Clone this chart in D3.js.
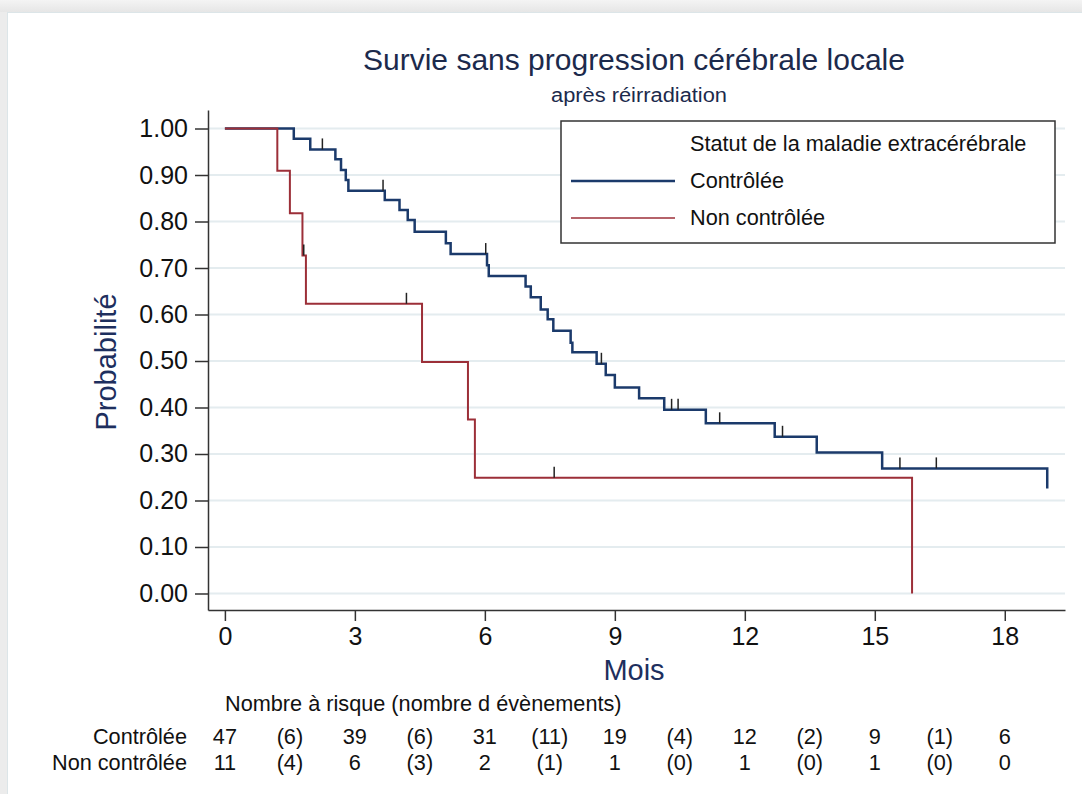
<!DOCTYPE html>
<html>
<head>
<meta charset="utf-8">
<script src="https://cdn.jsdelivr.net/npm/d3@7"></script>
<style>
  html, body { margin: 0; padding: 0; background: #ececec; }
  svg { display: block; font-family: "Liberation Sans", Arial, Helvetica, sans-serif; }
</style>
</head>
<body>
<svg id="chart" width="1082" height="794"></svg>
<script>
// Kaplan-Meier estimates (months, survival probability)
const controlledTimes = [0, 1.59, 1.97, 2.55, 2.68, 2.79, 2.85, 3.69, 4.03, 4.22, 4.38, 5.10, 5.21,
  6.05, 6.09, 6.94, 7.06, 7.29, 7.45, 7.58, 7.98, 8.02, 8.58, 8.79, 9.00, 9.56, 10.14,
  11.10, 12.69, 13.66, 15.17, 18.98];
const controlledSurv = [1.000, 0.978, 0.955, 0.934, 0.911, 0.889, 0.866, 0.846, 0.825, 0.803, 0.778, 0.753, 0.730,
  0.706, 0.683, 0.660, 0.637, 0.611, 0.590, 0.565, 0.539, 0.519, 0.494, 0.470, 0.443, 0.420, 0.395,
  0.366, 0.337, 0.303, 0.269, 0.226];
const controlledCensored = [2.25, 3.65, 6.02, 8.69, 10.31, 10.46, 11.42, 12.87, 15.58, 16.42];

const uncontrolledTimes = [0, 1.21, 1.50, 1.79, 1.87, 4.55, 5.61, 5.77, 15.86];
const uncontrolledSurv = [1.000, 0.909, 0.818, 0.727, 0.623, 0.498, 0.374, 0.249, 0.000];
const uncontrolledCensored = [1.82, 4.19, 7.60];

// Number at risk table
const riskTimes = [0, 3, 6, 9, 12, 15, 18];
const controlledAtRisk = [47, 39, 31, 19, 12, 9, 6];
const controlledEvents = [6, 6, 11, 4, 2, 1];
const uncontrolledAtRisk = [11, 6, 2, 1, 1, 1, 0];
const uncontrolledEvents = [4, 3, 1, 0, 0, 0];

const xTicks = [0, 3, 6, 9, 12, 15, 18];
const yTicks = [0, 0.1, 0.2, 0.3, 0.4, 0.5, 0.6, 0.7, 0.8, 0.9, 1.0];

const groupNames = ["Contrôlée", "Non contrôlée"];
const colors = ["#1b3a6b", "#9c2f38"];

const svg = d3.select("#chart");

// page card
const defs = svg.append("defs");
const lg = defs.append("linearGradient").attr("id", "topShade").attr("x1", 0).attr("y1", 0).attr("x2", 0).attr("y2", 1);
lg.append("stop").attr("offset", "0%").attr("stop-color", "#f4f4f4");
lg.append("stop").attr("offset", "100%").attr("stop-color", "#e6e6e6");
svg.append("rect").attr("x", 0).attr("y", 0).attr("width", 1082).attr("height", 12).attr("fill", "url(#topShade)");
svg.append("rect").attr("x", 7.5).attr("y", 12.5).attr("width", 1090).attr("height", 800)
  .attr("fill", "#ffffff").attr("stroke", "#dce5e8").attr("stroke-width", 1);

// scales
const x = d3.scaleLinear().domain([-0.39, 19.39]).range([208, 1065]);
const y = d3.scaleLinear().domain([-0.0355, 1.0398]).range([610, 110]);

// grid lines
svg.append("g").selectAll("line").data(yTicks).join("line")
  .attr("x1", 209).attr("x2", 1065)
  .attr("y1", d => y(d)).attr("y2", d => y(d))
  .attr("stroke", "#e4ecef").attr("stroke-width", 2);

// axes
const yAxis = d3.axisLeft(y).tickValues(yTicks).tickFormat(d3.format(".2f")).tickSize(13).tickPadding(7).tickSizeOuter(0);
const gy = svg.append("g").attr("transform", "translate(208,0)").call(yAxis);
gy.select(".domain").attr("stroke", "#333").attr("stroke-width", 1.5);
gy.selectAll(".tick line").attr("stroke", "#333").attr("stroke-width", 1.5);
gy.selectAll(".tick text").attr("font-size", 25).attr("fill", "#111").attr("font-family", "Liberation Sans, Arial, sans-serif");

const xAxis = d3.axisBottom(x).tickValues(xTicks).tickFormat(d3.format("d")).tickSize(11).tickPadding(6).tickSizeOuter(0);
const gx = svg.append("g").attr("transform", "translate(0,610)").call(xAxis);
gx.select(".domain").attr("stroke", "#333").attr("stroke-width", 1.5);
gx.selectAll(".tick line").attr("stroke", "#333").attr("stroke-width", 1.5);
gx.selectAll(".tick text").attr("font-size", 25).attr("fill", "#111").attr("font-family", "Liberation Sans, Arial, sans-serif");

// survival curves
const stepLine = d3.line().x(d => x(d[0])).y(d => y(d[1])).curve(d3.curveStepAfter);
const series = [
  { times: controlledTimes, surv: controlledSurv, cens: controlledCensored, color: colors[0], width: 2.5 },
  { times: uncontrolledTimes, surv: uncontrolledSurv, cens: uncontrolledCensored, color: colors[1], width: 2 }
];

function survAt(s, t) {
  let v = s.surv[0];
  for (let i = 0; i < s.times.length; i++) if (s.times[i] <= t) v = s.surv[i];
  return v;
}

series.forEach(s => {
  const pts = s.times.map((t, i) => [t, s.surv[i]]);
  svg.append("path").attr("d", stepLine(pts))
    .attr("fill", "none").attr("stroke", s.color).attr("stroke-width", s.width)
    .attr("stroke-linejoin", "miter");
});

// censoring marks
series.forEach(s => {
  svg.append("g").selectAll("line").data(s.cens).join("line")
    .attr("x1", d => x(d)).attr("x2", d => x(d))
    .attr("y1", d => y(survAt(s, d)))
    .attr("y2", d => y(survAt(s, d)) - 11)
    .attr("stroke", "#222").attr("stroke-width", 1.5);
});

// titles
svg.append("text").attr("x", 634).attr("y", 70).attr("text-anchor", "middle")
  .attr("font-size", 30).attr("fill", "#1c2a4c").text("Survie sans progression cérébrale locale");
svg.append("text").attr("x", 639).attr("y", 102).attr("text-anchor", "middle")
  .attr("font-size", 20).attr("fill", "#1c2a4c")
  .attr("textLength", 176).attr("lengthAdjust", "spacingAndGlyphs").text("après réirradiation");

svg.append("text").attr("x", 634).attr("y", 680).attr("text-anchor", "middle")
  .attr("font-size", 29).attr("fill", "#1e2f5e").text("Mois");
svg.append("text").attr("transform", "translate(116,362) rotate(-90)").attr("text-anchor", "middle")
  .attr("font-size", 29).attr("fill", "#1e2f5e").text("Probabilité");

// legend
const leg = svg.append("g");
leg.append("rect").attr("x", 561).attr("y", 121).attr("width", 494).attr("height", 122)
  .attr("fill", "#fff").attr("stroke", "#333").attr("stroke-width", 1.5);
leg.append("text").attr("x", 690).attr("y", 151).attr("font-size", 21.7).attr("fill", "#111")
  .text("Statut de la maladie extracérébrale");
groupNames.forEach((name, i) => {
  const yy = 181 + i * 37;
  leg.append("line").attr("x1", 571).attr("x2", 675).attr("y1", yy).attr("y2", yy)
    .attr("stroke", colors[i]).attr("stroke-width", i === 0 ? 2.5 : 1.3);
  leg.append("text").attr("x", 690).attr("y", yy + 7).attr("font-size", 21.7).attr("fill", "#111").text(name);
});

// number at risk table
const table = svg.append("g").attr("font-size", 21.7).attr("fill", "#111");
table.append("text").attr("x", 225).attr("y", 711).text("Nombre à risque (nombre d évènements)");
const rows = [
  { label: groupNames[0], atRisk: controlledAtRisk, events: controlledEvents, yy: 744 },
  { label: groupNames[1], atRisk: uncontrolledAtRisk, events: uncontrolledEvents, yy: 770 }
];
rows.forEach(r => {
  table.append("text").attr("x", 187).attr("y", r.yy).attr("text-anchor", "end").text(r.label);
  r.atRisk.forEach((n, i) => {
    table.append("text").attr("x", x(riskTimes[i])).attr("y", r.yy).attr("text-anchor", "middle").text(n);
  });
  r.events.forEach((n, i) => {
    const mid = (riskTimes[i] + riskTimes[i + 1]) / 2;
    table.append("text").attr("x", x(mid)).attr("y", r.yy).attr("text-anchor", "middle").text("(" + n + ")");
  });
});
</script>
</body>
</html>
